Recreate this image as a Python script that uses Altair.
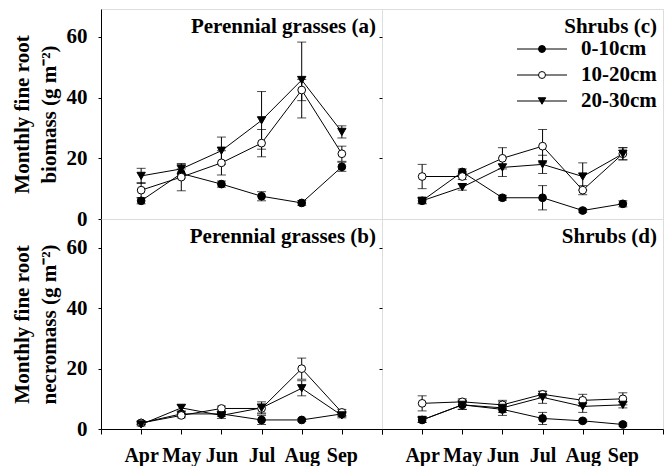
import altair as alt
import pandas as pd

months = ["Apr", "May", "Jun", "Jul", "Aug", "Sep"]
depths = ["0-10cm", "10-20cm", "20-30cm"]
titles = ["Perennial grasses (a)", "Shrubs (c)", "Perennial grasses (b)", "Shrubs  (d)"]
ytitle_top = ["Monthly fine root", "biomass (g m\u207b\u00b2)"]
ytitle_bot = ["Monthly fine root", "necromass (g m\u207b\u00b2)"]
yticks = [0, 20, 40, 60]

# (a) perennial grasses, biomass
a_mean = {"0-10cm": [6.0, 15.0, 11.5, 7.5, 5.3, 17.2],
          "10-20cm": [9.5, 13.8, 18.5, 25.0, 42.5, 21.5],
          "20-30cm": [14.2, 16.5, 22.5, 32.5, 45.8, 28.7]}
a_err = {"0-10cm": [1.0, 1.5, 1.0, 1.5, 0.8, 1.5],
         "10-20cm": [2.5, 4.5, 4.0, 4.5, 3.5, 2.5],
         "20-30cm": [2.5, 1.5, 4.5, 9.5, 12.5, 2.0]}
# (c) shrubs, biomass
c_mean = {"0-10cm": [6.0, 15.5, 7.0, 7.0, 2.8, 5.0],
          "10-20cm": [14.0, 14.0, 20.0, 24.0, 9.5, 21.5],
          "20-30cm": [6.0, 10.5, 17.0, 18.0, 14.0, 21.5]}
c_err = {"0-10cm": [0.8, 1.0, 0.8, 4.0, 0.6, 1.0],
         "10-20cm": [4.0, 1.0, 3.5, 5.5, 1.5, 2.0],
         "20-30cm": [1.0, 1.0, 3.0, 3.0, 4.5, 2.0]}
# (b) perennial grasses, necromass
b_mean = {"0-10cm": [2.0, 5.0, 5.0, 3.0, 3.0, 5.0],
          "10-20cm": [2.0, 4.5, 6.8, 6.8, 20.0, 5.5],
          "20-30cm": [1.5, 7.0, 4.5, 7.0, 13.5, 4.5]}
b_err = {"0-10cm": [0.5, 0.8, 0.8, 1.5, 0.5, 0.8],
         "10-20cm": [0.5, 0.8, 0.8, 1.5, 3.5, 1.0],
         "20-30cm": [0.5, 1.0, 1.0, 2.0, 2.5, 0.8]}
# (d) shrubs, necromass
d_mean = {"0-10cm": [3.0, 8.0, 6.5, 3.5, 2.7, 1.5],
          "10-20cm": [8.5, 9.0, 8.0, 11.5, 9.5, 10.0],
          "20-30cm": [3.0, 8.0, 7.0, 10.5, 7.5, 8.0]}
d_err = {"0-10cm": [0.8, 1.5, 1.0, 2.0, 0.5, 0.5],
         "10-20cm": [2.5, 1.0, 1.0, 1.0, 2.0, 2.0],
         "20-30cm": [0.8, 1.5, 2.5, 2.0, 2.0, 1.0]}

FONT = "Liberation Serif"
W = 281
H = 210

# marker style per depth: (shape, fill, size)
styles = [("circle", "black", 60), ("circle", "white", 60), ("triangle-down", "black", 70)]


def make_df(means, errs):
    rows = []
    for d in depths:
        for i, m in enumerate(months):
            v = means[d][i]
            e = errs[d][i]
            rows.append({"month": m, "mi": i + 1, "depth": d, "v": v, "lo": v - e, "hi": v + e})
    return pd.DataFrame(rows)


label_expr = "[''," + ",".join("'%s'" % m for m in months) + ",''][datum.value]"


def legend_layers():
    out = []
    for i, d in enumerate(depths):
        ldf = pd.DataFrame({"t": [d]})
        yy = 40 + 26 * i
        shape, fill, size = styles[i]
        out.append(alt.Chart(ldf).mark_rule(color="black", strokeWidth=1).encode(
            x=alt.value(135), x2=alt.value(185), y=alt.value(yy)))
        out.append(alt.Chart(ldf).mark_point(shape=shape, filled=True, fill=fill, stroke="black",
                                             strokeWidth=1, size=size * 0.8, opacity=1).encode(
            x=alt.value(160), y=alt.value(yy)))
        out.append(alt.Chart(ldf).mark_text(align="left", baseline="middle", font=FONT,
                                            fontWeight="bold", fontSize=21, color="black").encode(
            text="t:N", x=alt.value(199), y=alt.value(yy)))
    return out


def panel(means, errs, title, ymax, xlabels, ytitle, legend=False):
    df = make_df(means, errs)
    xs = alt.Scale(domain=[0, 7], nice=False, zero=False)
    ys = alt.Scale(domain=[0, ymax], nice=False)
    if xlabels:
        xaxis = alt.Axis(values=list(range(8)), labelExpr=label_expr, title=None, tickSize=5,
                         labelPadding=11, grid=False, domain=True, domainColor="black",
                         tickColor="black", labelFont=FONT, labelFontSize=20,
                         labelFontWeight="bold", labelColor="black", labelOverlap=False,
                         labelFlush=False)
    else:
        xaxis = None
    if ytitle is not None:
        yaxis = alt.Axis(values=yticks, title=ytitle, tickSize=3, labelPadding=11, grid=False,
                         domain=True, domainColor="black", tickColor="black",
                         labelFont=FONT, labelFontSize=21, labelFontWeight="bold",
                         labelColor="black", titleFont=FONT, titleFontSize=21,
                         titleFontWeight="bold", titleColor="black", titleLineHeight=27,
                         titlePadding=7)
    else:
        yaxis = alt.Axis(values=yticks, labels=False, title=None, tickSize=3, grid=False,
                         domain=False, tickColor="black")
    base = alt.Chart(df)
    x = alt.X("mi:Q", scale=xs, axis=xaxis)

    def Y(f):
        return alt.Y(f, scale=ys, axis=yaxis)

    line = base.mark_line(color="black", strokeWidth=1).encode(x=x, y=Y("v:Q"), detail="depth:N")
    rule = base.mark_rule(color="black", strokeWidth=1).encode(x=x, y=Y("lo:Q"), y2="hi:Q")
    cap_lo = base.mark_tick(orient="horizontal", size=9, thickness=1, color="black").encode(x=x, y=Y("lo:Q"))
    cap_hi = base.mark_tick(orient="horizontal", size=9, thickness=1, color="black").encode(x=x, y=Y("hi:Q"))
    pts = []
    for i, d in enumerate(depths):
        shape, fill, size = styles[i]
        pts.append(base.transform_filter(alt.datum.depth == d).mark_point(
            shape=shape, filled=True, fill=fill, stroke="black", strokeWidth=1, size=size,
            opacity=1).encode(x=x, y=Y("v:Q")))
    ttl = alt.Chart(pd.DataFrame({"t": [title]})).mark_text(
        align="right", baseline="alphabetic", font=FONT, fontWeight="bold", fontSize=21,
        color="black").encode(text="t:N", x=alt.value(W - 6), y=alt.value(24))
    layers = [line, rule, cap_lo, cap_hi] + pts + [ttl]
    if legend:
        layers += legend_layers()
    return alt.layer(*layers).properties(width=W, height=H)


pa = panel(a_mean, a_err, titles[0], 69.2, False, ytitle_top)
pc = panel(c_mean, c_err, titles[1], 69.2, False, None, legend=True)
pb = panel(b_mean, b_err, titles[2], 69.6, True, ytitle_bot)
pd_ = panel(d_mean, d_err, titles[3], 69.6, True, None)

chart = alt.concat(pa, pc, pb, pd_, columns=2, spacing=0, bounds="flush").properties(
    padding={"left": 2, "top": 0, "right": 0, "bottom": 0}
).configure_view(stroke="black", strokeWidth=1).configure(background="white")

chart.save("out.html", embed_options={"renderer": "svg", "actions": False})
